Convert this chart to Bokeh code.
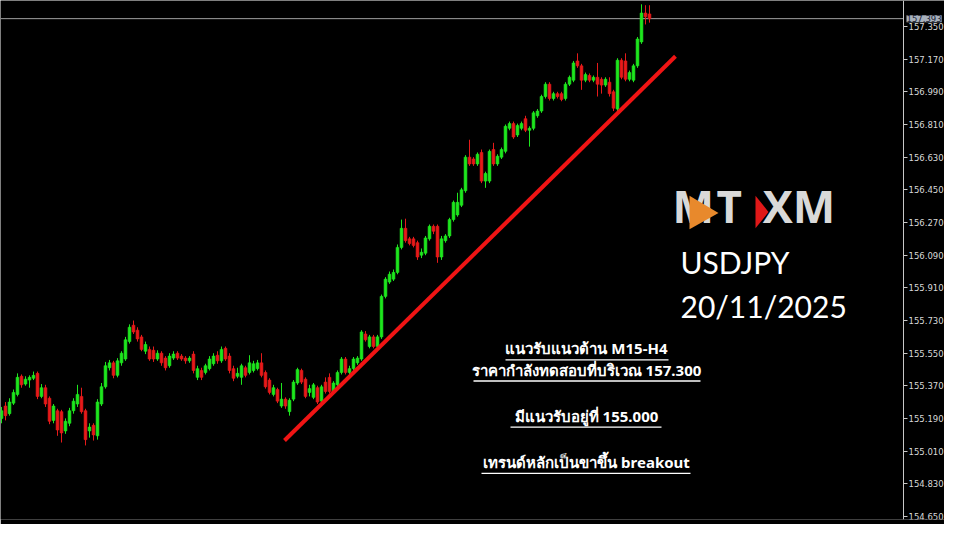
from bokeh.plotting import figure
from bokeh.models import (Range1d, FixedTicker, PrintfTickFormatter, Label, ColumnDataSource,
                          LinearAxis)
from bokeh.embed import file_html
from bokeh.resources import INLINE

# ---------------- data (USDJPY, M15 candles) ----------------
opens = [155.191, 155.259, 155.217, 155.275, 155.323, 155.423, 155.380, 155.402, 155.412, 155.439,
         155.312, 155.360, 155.302, 155.180, 155.233, 155.228, 155.122, 155.164, 155.233, 155.270,
         155.312, 155.233, 155.122, 155.153, 155.095, 155.270, 155.365, 155.470, 155.497, 155.428,
         155.497, 155.518, 155.614, 155.704, 155.677, 155.640, 155.561, 155.571, 155.566, 155.518,
         155.550, 155.523, 155.481, 155.523, 155.550, 155.534, 155.523, 155.508, 155.545, 155.417,
         155.455, 155.444, 155.465, 155.492, 155.539, 155.508, 155.577, 155.534, 155.465, 155.423,
         155.417, 155.470, 155.444, 155.455, 155.465, 155.497, 155.444, 155.402, 155.323, 155.350,
         155.259, 155.297, 155.228, 155.297, 155.386, 155.455, 155.407, 155.334, 155.307, 155.360,
         155.286, 155.391, 155.417, 155.339, 155.376, 155.444, 155.518, 155.444, 155.465, 155.497,
         155.518, 155.656, 155.587, 155.640, 155.587, 155.640, 155.863, 155.942, 155.958, 155.995,
         156.133, 156.238, 156.180, 156.180, 156.159, 156.090, 156.101, 156.180, 156.249, 156.249,
         156.080, 156.170, 156.196, 156.286, 156.312, 156.365, 156.445, 156.630, 156.620, 156.593,
         156.656, 156.498, 156.498, 156.672, 156.593, 156.630, 156.662, 156.789, 156.815, 156.752,
         156.789, 156.842, 156.778, 156.789, 156.858, 156.884, 156.964, 157.032, 156.953, 156.980,
         156.980, 156.953, 157.032, 157.054, 157.160, 157.133, 157.054, 157.080, 157.054, 157.070,
         157.059, 157.027, 157.043, 156.990, 156.895, 157.164, 157.160, 157.059, 157.054, 157.133,
         157.265, 157.424, 157.419]
highs = [155.254, 155.281, 155.302, 155.350, 155.439, 155.433, 155.423, 155.428, 155.449, 155.449,
         155.380, 155.376, 155.312, 155.270, 155.244, 155.238, 155.191, 155.249, 155.302, 155.376,
         155.360, 155.244, 155.164, 155.164, 155.297, 155.386, 155.502, 155.513, 155.508, 155.523,
         155.561, 155.640, 155.709, 155.730, 155.693, 155.651, 155.614, 155.587, 155.587, 155.566,
         155.561, 155.534, 155.550, 155.561, 155.561, 155.545, 155.534, 155.534, 155.561, 155.481,
         155.470, 155.492, 155.534, 155.550, 155.561, 155.587, 155.587, 155.550, 155.481, 155.470,
         155.492, 155.481, 155.539, 155.508, 155.513, 155.550, 155.455, 155.412, 155.376, 155.360,
         155.386, 155.307, 155.302, 155.402, 155.470, 155.465, 155.417, 155.376, 155.386, 155.371,
         155.376, 155.417, 155.439, 155.396, 155.455, 155.529, 155.529, 155.481, 155.529, 155.534,
         155.677, 155.672, 155.651, 155.651, 155.651, 155.873, 155.969, 156.000, 156.011, 156.149,
         156.286, 156.291, 156.191, 156.191, 156.170, 156.127, 156.196, 156.259, 156.259, 156.259,
         156.196, 156.206, 156.296, 156.391, 156.434, 156.461, 156.641, 156.726, 156.630, 156.656,
         156.672, 156.550, 156.672, 156.709, 156.646, 156.683, 156.810, 156.826, 156.826, 156.815,
         156.826, 156.858, 156.800, 156.884, 156.895, 156.974, 157.043, 157.043, 156.990, 156.990,
         156.990, 157.043, 157.080, 157.160, 157.202, 157.144, 157.096, 157.091, 157.080, 157.149,
         157.070, 157.070, 157.070, 157.001, 157.175, 157.175, 157.202, 157.107, 157.144, 157.292,
         157.472, 157.467, 157.467]
lows = [155.164, 155.180, 155.206, 155.265, 155.312, 155.360, 155.371, 155.360, 155.402, 155.297,
        155.302, 155.254, 155.159, 155.164, 155.095, 155.058, 155.106, 155.148, 155.217, 155.254,
        155.217, 155.042, 155.085, 155.069, 155.074, 155.259, 155.355, 155.455, 155.412, 155.417,
        155.481, 155.508, 155.603, 155.656, 155.614, 155.561, 155.545, 155.508, 155.502, 155.508,
        155.481, 155.455, 155.470, 155.513, 155.513, 155.508, 155.492, 155.497, 155.439, 155.402,
        155.402, 155.433, 155.455, 155.481, 155.492, 155.497, 155.508, 155.439, 155.396, 155.412,
        155.376, 155.417, 155.433, 155.444, 155.455, 155.417, 155.355, 155.323, 155.312, 155.275,
        155.249, 155.244, 155.206, 155.286, 155.376, 155.380, 155.302, 155.312, 155.297, 155.270,
        155.275, 155.328, 155.328, 155.328, 155.365, 155.433, 155.433, 155.433, 155.455, 155.486,
        155.508, 155.614, 155.577, 155.577, 155.561, 155.629, 155.852, 155.932, 155.948, 155.985,
        156.122, 156.159, 156.144, 156.133, 156.064, 156.074, 156.090, 156.170, 156.206, 156.048,
        156.064, 156.159, 156.185, 156.275, 156.302, 156.355, 156.434, 156.582, 156.582, 156.582,
        156.487, 156.461, 156.487, 156.582, 156.582, 156.620, 156.651, 156.778, 156.731, 156.741,
        156.778, 156.768, 156.688, 156.778, 156.847, 156.874, 156.953, 156.942, 156.942, 156.953,
        156.938, 156.942, 157.022, 157.043, 157.122, 157.001, 157.043, 157.043, 157.043, 156.964,
        156.980, 157.017, 156.964, 156.884, 156.884, 157.059, 157.048, 157.048, 157.043, 157.122,
        157.254, 157.361, 157.371]
closes = [155.233, 155.206, 155.281, 155.334, 155.417, 155.376, 155.407, 155.417, 155.428, 155.312,
          155.360, 155.270, 155.175, 155.259, 155.127, 155.111, 155.175, 155.233, 155.286, 155.323,
          155.228, 155.074, 155.143, 155.100, 155.281, 155.365, 155.481, 155.497, 155.428, 155.508,
          155.550, 155.624, 155.693, 155.667, 155.629, 155.571, 155.598, 155.518, 155.518, 155.550,
          155.497, 155.470, 155.534, 155.545, 155.523, 155.518, 155.508, 155.523, 155.455, 155.465,
          155.417, 155.481, 155.518, 155.534, 155.508, 155.571, 155.518, 155.455, 155.412, 155.439,
          155.481, 155.428, 155.497, 155.492, 155.497, 155.428, 155.365, 155.334, 155.360, 155.286,
          155.297, 155.259, 155.291, 155.391, 155.460, 155.391, 155.312, 155.355, 155.376, 155.281,
          155.365, 155.339, 155.339, 155.386, 155.444, 155.518, 155.444, 155.465, 155.518, 155.523,
          155.667, 155.624, 155.640, 155.587, 155.640, 155.863, 155.958, 155.985, 155.995, 156.133,
          156.238, 156.170, 156.154, 156.144, 156.080, 156.106, 156.185, 156.249, 156.222, 156.080,
          156.180, 156.196, 156.286, 156.381, 156.381, 156.450, 156.630, 156.593, 156.593, 156.646,
          156.498, 156.540, 156.662, 156.593, 156.635, 156.672, 156.800, 156.815, 156.741, 156.805,
          156.815, 156.778, 156.789, 156.874, 156.884, 156.964, 157.032, 156.953, 156.980, 156.964,
          156.948, 157.032, 157.070, 157.149, 157.133, 157.054, 157.085, 157.054, 157.070, 157.032,
          157.027, 157.059, 156.980, 156.900, 157.164, 157.070, 157.059, 157.096, 157.133, 157.281,
          157.424, 157.403, 157.393]

price_ticks = [157.350, 157.170, 156.990, 156.810, 156.630, 156.450, 156.270, 156.090,
               155.910, 155.730, 155.550, 155.370, 155.190, 155.010, 154.830, 154.650]
current_price = 157.393
trend_x = [70.75, 168.5]
trend_y = [155.069, 157.186]

title_symbol = "USDJPY"
title_date = "20/11/2025"
notes = ["แนวรับแนวต้าน M15-H4",
         "ราคากำลังทดสอบที่บริเวณ 157.300",
         "มีแนวรับอยู่ที่ 155.000",
         "เทรนด์หลักเป็นขาขึ้น breakout"]

# ---------------- figure ----------------
UP = "#1ee61e"
DOWN = "#e61a1a"
X0, X1 = -0.25, 235.75      # 4 px per bar across the 944 px frame
AXIS_X = 225.5              # price scale sits inside the frame, as in the terminal

idx = list(range(len(opens)))
colors = [UP if c >= o else DOWN for o, c in zip(opens, closes)]
tops = [max(o, c) for o, c in zip(opens, closes)]
bottoms = [min(o, c) for o, c in zip(opens, closes)]
src = ColumnDataSource(dict(x=idx, high=highs, low=lows, top=tops, bottom=bottoms, color=colors))

p = figure(width=944, height=524, output_backend="svg", toolbar_location=None,
           x_range=Range1d(X0, X1), y_range=Range1d(154.634, 157.493),
           x_axis_location=None, y_axis_location=None,
           background_fill_color="black", border_fill_color="black",
           min_border_left=0, min_border_top=0, min_border_bottom=5, min_border_right=0)
p.grid.visible = False
p.outline_line_color = None

ax = LinearAxis(fixed_location=AXIS_X)
ax.ticker = FixedTicker(ticks=price_ticks)
ax.formatter = PrintfTickFormatter(format="%.3f")
ax.axis_line_color = "#c8c8c8"
ax.major_tick_line_color = "#c8c8c8"
ax.major_tick_out = 4
ax.major_tick_in = 0
ax.minor_tick_out = 0
ax.minor_tick_in = 0
ax.major_label_standoff = 1
ax.major_label_text_color = "#d8d8d8"
ax.major_label_text_font = "DejaVu Sans"
ax.major_label_text_font_size = "8.5px"
p.add_layout(ax, "right")

# current price line (stops at the price scale)
p.segment(x0=[X0], y0=[current_price], x1=[AXIS_X], y1=[current_price],
          line_color="#a0a0a0", line_width=1)

p.segment(x0="x", y0="high", x1="x", y1="low", line_color="color", line_width=1, source=src)
p.vbar(x="x", width=0.7, top="top", bottom="bottom", fill_color="color", line_color="color",
       line_width=0.6, source=src)

p.line(trend_x, trend_y, line_color="#f01414", line_width=4)

# current price tag on the axis
p.add_layout(Label(x=AXIS_X, y=current_price, x_offset=3, text=f"{current_price:.3f}",
                   text_baseline="middle", text_font="DejaVu Sans", text_font_size="8.5px",
                   text_color="#1a2233", background_fill_color="#a8b0bc"))

# logo (MT | XM)
p.add_layout(Label(x=167.75, y=156.194, text="M", text_font="Open Sans",
                   text_font_style="bold", text_font_size="44px", text_color="#d9d9d9"))
p.patch([172.0, 172.0, 179.25], [156.418, 156.233, 156.323], fill_color="#e8892c",
        line_color=None, level="overlay")
p.add_layout(Label(x=178.75, y=156.194, text="T", text_font="Open Sans",
                   text_font_style="bold", text_font_size="44px", text_color="#d9d9d9"))
p.patch([188.5, 188.5, 191.75], [156.418, 156.238, 156.328], fill_color="#e01818",
        line_color=None, level="overlay")
p.add_layout(Label(x=190.3, y=156.194, text="XM", text_font="Open Sans",
                   text_font_style="bold", text_font_size="45px", text_color="#d9d9d9"))

p.add_layout(Label(x=169.75, y=155.955, text=title_symbol, text_font="Lato",
                   text_font_size="30px", text_color="white"))
p.add_layout(Label(x=169.75, y=155.711, text=title_date, text_font="Lato",
                   text_font_size="30px", text_color="white"))

note_y = [155.523, 155.401, 155.148, 154.893]
line_y = [155.513, 155.397, 155.143, 154.888]
line_x0 = [126.0, 118.0, 127.25, 120.0]
line_x1 = [166.75, 174.75, 165.0, 172.25]
for t, yy in zip(notes, note_y):
    p.add_layout(Label(x=146.25, y=yy, text=t, text_align="center", text_font="Noto Sans",
                       text_font_style="bold", text_font_size="15px", text_color="white"))
p.segment(x0=line_x0, y0=line_y, x1=line_x1, y1=line_y, line_color="white", line_width=1.3)

open("out.html", "w").write(file_html(p, INLINE))
